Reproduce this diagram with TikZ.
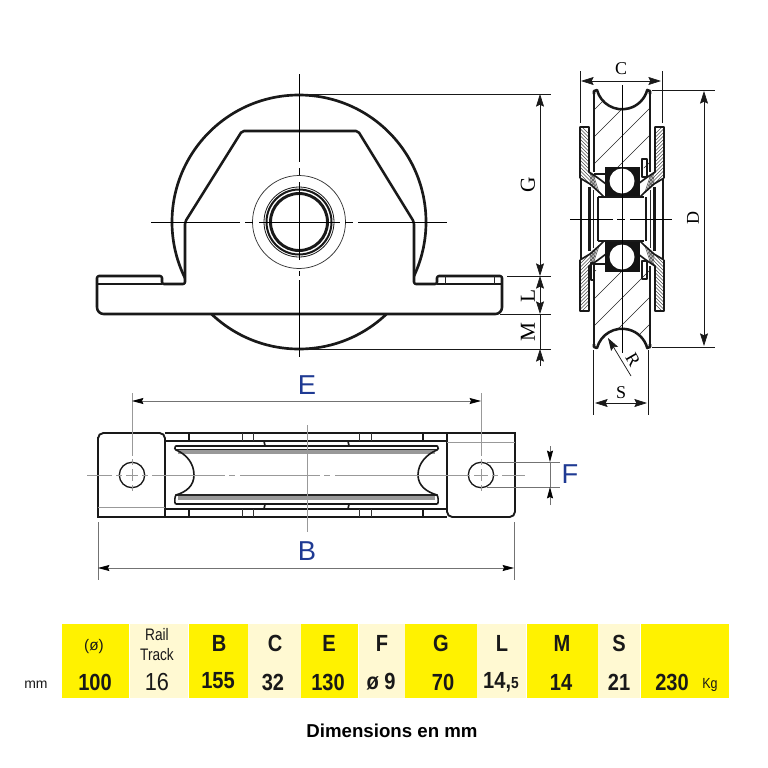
\documentclass[tikz,border=0pt]{standalone}
\usepackage{fontspec}
\setmainfont{Liberation Sans}
\newfontfamily\dimserif{Liberation Serif}
\usetikzlibrary{arrows.meta}
\definecolor{ybright}{HTML}{FFF200}
\definecolor{ypale}{HTML}{FFF9D2}
\definecolor{dimblue}{HTML}{1F3A93}
\newcommand{\hv}[1]{\scalebox{0.86}[1]{\fontsize{17.5pt}{17.5pt}\selectfont\bfseries #1}}
\newcommand{\hr}[1]{\scalebox{0.88}[1]{\fontsize{18.5pt}{18.5pt}\selectfont #1}}
\tikzset{
  thickline/.style={line width=1.9pt,black!90,line join=round},
  medline/.style={line width=1.25pt,black!90,line join=round},
  thinline/.style={line width=0.45pt,black!85},
  hatchline/.style={line width=0.4pt,black!70},
  centerline/.style={line width=0.6pt,black},
  grayline/.style={line width=0.5pt,black!40},
  dimline/.style={line width=0.55pt,black!90},
  plandim/.style={line width=0.55pt,black!55},
  twoheads/.style={dimline,{Stealth[length=9.5pt,width=6pt,inset=1.5pt]}-{Stealth[length=9.5pt,width=6pt,inset=1.5pt]}},
  onehead/.style={dimline,-{Stealth[length=9.5pt,width=6pt,inset=1.5pt]}},
  twoplan/.style={plandim,{Stealth[length=8.5pt,width=4.5pt,inset=1pt,black]}-{Stealth[length=8.5pt,width=4.5pt,inset=1pt,black]}},
  oneplan/.style={plandim,-{Stealth[length=8.5pt,width=4.5pt,inset=1pt,black]}},
  serifdim/.style={font=\dimserif\fontsize{13.5pt}{13.5pt}\selectfont,inner sep=0pt},
  serifbig/.style={font=\dimserif\fontsize{16pt}{16pt}\selectfont,inner sep=0pt},
  bluedim/.style={text=dimblue,font=\fontsize{20.5pt}{20.5pt}\selectfont,inner sep=0pt},
  brightcell/.style={fill=ybright,draw=none},
  palecell/.style={fill=ypale,draw=none},
  celltext/.style={inner sep=0pt,anchor=center,text=black!90},
}
% upper-left quadrant of the section view
\newcommand{\sidequad}{%
  \begin{scope}
    \clip (580,127) -- (589,127) -- (589,172) -- (598,178) -- (606,184) -- (606,198) -- (600,193) -- (590,184) -- (580,178) -- cycle;
    \foreach \k in {0,3.5,...,80} { \draw[hatchline] (575,120+\k) -- (595,140+\k); }
    \foreach \k in {0,4,...,40} { \draw[hatchline] (590,165+\k) -- (600,195+\k); }
  \end{scope}
  \draw[medline] (580,178) -- (580,127) -- (589,127) -- (589,172) -- (598,178) -- (606,184);
  \draw[medline] (580,178) -- (590,184) -- (600,193) -- (604,197);
  \draw[line width=2.2pt,black!90] (581,178) -- (581,219);
  \draw[line width=1.8pt,black!90] (589.5,187) -- (589.5,219);
  \draw[thinline] (593.5,190) -- (593.5,219);
  \draw[line width=1.7pt,black!90] (598,197) -- (598,219);
  \draw[thickline] (594,172) -- (594,94);
}
\begin{document}
\begin{tikzpicture}[x=0.75pt,y=-0.75pt]
\useasboundingbox (0,0) rectangle (768,768);
\fill[white] (0,0) rectangle (768,768);

% ---------- FRONT VIEW ----------
\draw[line width=2pt,black!90] (299,222) circle[radius=127];
\draw[thickline,fill=white,rounded corners=1.5pt] (242,131) -- (358,131) -- (414,222) -- (414,284) -- (437,284) -- (437,276) -- (502,276) [rounded corners=5pt] -- (502,314) -- (97,314) [rounded corners=1.5pt] -- (97,276) -- (162,276) -- (162,284) -- (185,284) -- (185,222) -- cycle;
\draw[medline] (97,284) -- (162,284);
\draw[medline] (437,284) -- (502,284);
\draw[thinline] (445,276) -- (445,284) (494,276) -- (494,284);
\draw[line width=0.55pt,black!80] (299,222) circle[radius=46.5];
\draw[line width=0.6pt,black!90] (299,222) circle[radius=35];
\draw[line width=1.5pt,black!90] (299,222) circle[radius=32.5];
\draw[line width=2.2pt,black!90] (299,222) circle[radius=28.5];
\draw[centerline] (299,74) -- (299,162) (299,168) -- (299,175) (299,182) -- (299,260) (299,271) -- (299,276) (299,280) -- (299,357);
\draw[centerline] (151,222) -- (240,222) (245,222) -- (253,222) (259,222) -- (340,222) (345,222) -- (353,222) (358,222) -- (447,222);
% dimensions G L M
\draw[dimline] (299,94) -- (551,94) (299,349) -- (551,349) (507,276) -- (551,276) (500,314) -- (551,314);
\coordinate (dimtop) at (540,94);
\coordinate (dimg) at (540,276);
\coordinate (diml) at (540,314);
\coordinate (dimm) at (540,349);
\draw[twoheads] (dimtop) -- (dimg);
\draw[onehead] (540,295) -- (540,276);
\draw[onehead] (540,295) -- (diml);
\draw[dimline] (diml) -- (dimm);
\draw[onehead] (540,366) -- (dimm);
\node[serifbig,rotate=90] (labG) at (528,185) {G};
\node[serifbig,rotate=90] (labL) at (528,296) {L};
\node[serifbig,rotate=90] (labM) at (528,332) {M};

% ---------- SECTION VIEW ----------
\begin{scope}
  \clip (594,90) rectangle (650,168) (594,270) rectangle (650,348);
  \foreach \k in {0,27,...,400} { \draw[thinline] (590,\k+60) -- (660,\k-10); }
\end{scope}
\fill[white] (622,83) circle[radius=26];
\fill[white] (622,355) circle[radius=26];
\fill[white] (590,70) rectangle (655,90);
\fill[white] (590,348) rectangle (655,368);
\draw[thickline] (594,94) -- (594,91) -- (597,90) arc (165:15:26) -- (647,90) -- (650,91) -- (650,94);
\draw[thickline] (594,344) -- (594,347) -- (597,348) arc (-165:-15:26) -- (647,348) -- (650,347) -- (650,344);
\sidequad
\begin{scope}[shift={(1244,0)},xscale=-1] \sidequad \end{scope}
\begin{scope}[shift={(0,438)},yscale=-1] \sidequad \end{scope}
\begin{scope}[shift={(1244,438)},xscale=-1,yscale=-1] \sidequad \end{scope}
% bearings
\fill[black!92] (605,167) rectangle (640,197);
\fill[black!92] (605,241) rectangle (640,272);
\fill[white] (622,181) circle[radius=12.5];
\fill[white] (622,257) circle[radius=12.5];
\draw[medline] (594,174) -- (605,174) (594,264) -- (605,264);
\draw[line width=1.5pt,black!90] (598,197) -- (644,197) (598,241) -- (644,241);
\draw[medline] (642,159) rectangle (647,177);
\draw[medline] (642,261) rectangle (647,279);
\draw[medline] (591,263) rectangle (594,280);
% section centre lines and dims
\draw[centerline] (622,85) -- (622,353);
\draw[centerline] (570,219) -- (613,219) (617,219) -- (625,219) (630,219) -- (672,219);
\draw[dimline] (580,71) -- (580,123) (662,71) -- (662,123);
\coordinate (cl) at (581,81);
\coordinate (cr) at (661,81);
\draw[twoheads] (cl) -- (cr);
\node[serifdim] (labC) at (621,69) {C};
\draw[dimline] (652,90) -- (715,90) (652,347) -- (715,347);
\coordinate (dt) at (704,91);
\coordinate (db) at (704,346);
\draw[twoheads] (dt) -- (db);
\node[serifdim,rotate=90] (labD) at (693,218) {D};
\coordinate (rtip) at (608,338);
\coordinate (rend) at (631,376);
\draw[onehead] (rend) -- (rtip);
\node[serifdim,rotate=-60] (labR) at (633,360) {R};
\draw[dimline] (593.5,350) -- (593.5,415) (648,350) -- (648,415);
\coordinate (sl) at (595,403);
\coordinate (sr) at (647,403);
\draw[twoheads] (sl) -- (sr);
\node[serifdim] (labS) at (621,393) {S};

% ---------- PLAN VIEW ----------
\draw[medline] (165,433) -- (447,433) (165,517) -- (447,517);
\draw[medline] (165,441) -- (447,441) (165,509) -- (447,509);
\draw[medline] (189,433) -- (189,441) (189,509) -- (189,517) (423,433) -- (423,441) (423,509) -- (423,517);
\draw[line width=0.7pt,black!80] (242,433) -- (242,441) (253,433) -- (253,441) (242,509) -- (242,517) (253,509) -- (253,517);
\draw[line width=0.7pt,black!80] (359,433) -- (359,441) (371,433) -- (371,441) (359,509) -- (359,517) (371,509) -- (371,517);
\draw[line width=2.4pt,black!40] (178,452) -- (435,452) (178,498) -- (435,498);
\draw[medline] (264,441) -- (265,446) (348,441) -- (349,446) (264,509) -- (265,504) (348,509) -- (349,504);
\draw[line width=1.5pt,black!90,line cap=round] (176,446) -- (437,446) (176,504) -- (437,504);
\draw[line width=1pt,black!85,line cap=round] (176,449.5) -- (437,449.5) (176,495) -- (437,495);
\draw[line width=1.2pt,black!90] (175.5,446) .. controls (174,448) and (175,449.5) .. (176,450) .. controls (186,454) and (194,463) .. (194,475) .. controls (194,486) and (186,492) .. (176,495) .. controls (175,496) and (174,502) .. (175.5,504);
\draw[line width=1.2pt,black!90] (437.5,446) .. controls (439,448) and (438,449.5) .. (437,450) .. controls (427,454) and (418,463) .. (418,475) .. controls (418,486) and (427,492) .. (437,495) .. controls (438,496) and (439,502) .. (437.5,504);
% tabs
\draw[line width=1.4pt,black!90,fill=white,rounded corners=4pt] (98,517) [sharp corners] -- (98,437) [rounded corners=4pt] -- (98,433) -- (165,433) [sharp corners] -- (165,517) -- cycle;
\draw[grayline] (98,507) -- (165,507);
\draw[line width=1.4pt,black!90,fill=white] (447,433) -- (515,433) -- (515,512) [rounded corners=4pt] -- (515,517) -- (447,517) [sharp corners] -- (447,512) -- cycle;
\draw[grayline] (447,442) -- (515,442);
\draw[line width=1pt,black!90] (132,475) circle[radius=12.7];
\draw[line width=1pt,black!90] (481,475) circle[radius=12.7];
% plan centre lines
\draw[grayline] (87,475) -- (112,475) (116,475) -- (122,475) (126,475) -- (138,475) (142,475) -- (148,475) (152,475) -- (225,475) (229,475) -- (235,475) (240,475) -- (320,475) (324,475) -- (330,475) (335,475) -- (470,475) (474,475) -- (488,475) (492,475) -- (498,475) (502,475) -- (525,475);
\draw[grayline] (307,425) -- (307,532);
\draw[grayline] (132,393) -- (132,456) (132,459) -- (132,465) (132,469) -- (132,481) (132,485) -- (132,491);
\draw[grayline] (481,393) -- (481,456) (481,459) -- (481,465) (481,469) -- (481,481) (481,485) -- (481,491);
\coordinate (el) at (132,401);
\coordinate (er) at (481,401);
\draw[twoplan] (el) -- (er);
\node[bluedim] (labE) at (307,385) {E};
\draw[plandim] (98,522) -- (98,580) (514,522) -- (514,580);
\coordinate (bl) at (98,568);
\coordinate (br) at (514,568);
\draw[twoplan] (bl) -- (br);
\node[bluedim] (labB) at (307,551) {B};
\draw[plandim] (487,462) -- (560,462) (487,487) -- (560,487);
\coordinate (ft) at (550,462);
\coordinate (fb) at (550,487);
\draw[oneplan] (550,446) -- (ft);
\draw[oneplan] (550,505) -- (fb);
\draw[plandim] (ft) -- (fb);
\node[bluedim] (labF) at (570,474) {F};

% ---------- TABLE ----------
\fill[brightcell] (62,624) rectangle (129,698);
\fill[palecell] (130,624) rectangle (188,698);
\fill[brightcell] (189,624) rectangle (248,698);
\fill[palecell] (248,624) rectangle (301,698);
\fill[brightcell] (301,624) rectangle (358,698);
\fill[palecell] (359,624) rectangle (405,698);
\fill[brightcell] (405,624) rectangle (477,698);
\fill[palecell] (477,624) rectangle (526,698);
\fill[brightcell] (527,624) rectangle (598,698);
\fill[palecell] (598,624) rectangle (640,698);
\fill[brightcell] (641,624) rectangle (729,698);

\node[celltext,font=\fontsize{10.5pt}{10.5pt}\selectfont] (tmm) at (36,685) {mm};
\node[celltext,font=\fontsize{11.5pt}{11.5pt}\selectfont] (thd) at (94,647) {(ø)};
\node[celltext,font=\fontsize{12.5pt}{12.5pt}\selectfont] (thr) at (157,635) {\scalebox{0.82}[1]{Rail}};
\node[celltext,font=\fontsize{12.5pt}{12.5pt}\selectfont] (tht) at (157,655) {\scalebox{0.82}[1]{Track}};
\node[celltext] (thB) at (219,643) {\hv{B}};
\node[celltext] (thC) at (275,643) {\hv{C}};
\node[celltext] (thE) at (329,643) {\hv{E}};
\node[celltext] (thF) at (382,643) {\hv{F}};
\node[celltext] (thG) at (441,643) {\hv{G}};
\node[celltext] (thL) at (502,643) {\hv{L}};
\node[celltext] (thM) at (562,643) {\hv{M}};
\node[celltext] (thS) at (619,643) {\hv{S}};
\node[celltext] (v1) at (95,682) {\hv{100}};
\node[celltext] (v2) at (157,682) {\hr{16}};
\node[celltext] (v3) at (218,681) {\hv{155}};
\node[celltext] (v4) at (273,682) {\hv{32}};
\node[celltext] (v5) at (328,682) {\hv{130}};
\node[celltext] (v6) at (381,682) {\hv{ø 9}};
\node[celltext] (v7) at (443,682) {\hv{70}};
\node[celltext] (v8) at (501,682) {\hv{14,{\fontsize{12pt}{12pt}\selectfont 5}}};
\node[celltext] (v9) at (561,682) {\hv{14}};
\node[celltext] (v10) at (619,682) {\hv{21}};
\node[celltext] (v11) at (672,682) {\hv{230}};
\node[celltext,font=\fontsize{11pt}{11pt}\selectfont] (tkg) at (710,685) {\scalebox{0.85}[1]{Kg}};
\node[celltext,font=\bfseries\fontsize{14pt}{14pt}\selectfont,text=black] (tcap) at (392,731) {Dimensions en mm};
\end{tikzpicture}
\end{document}
